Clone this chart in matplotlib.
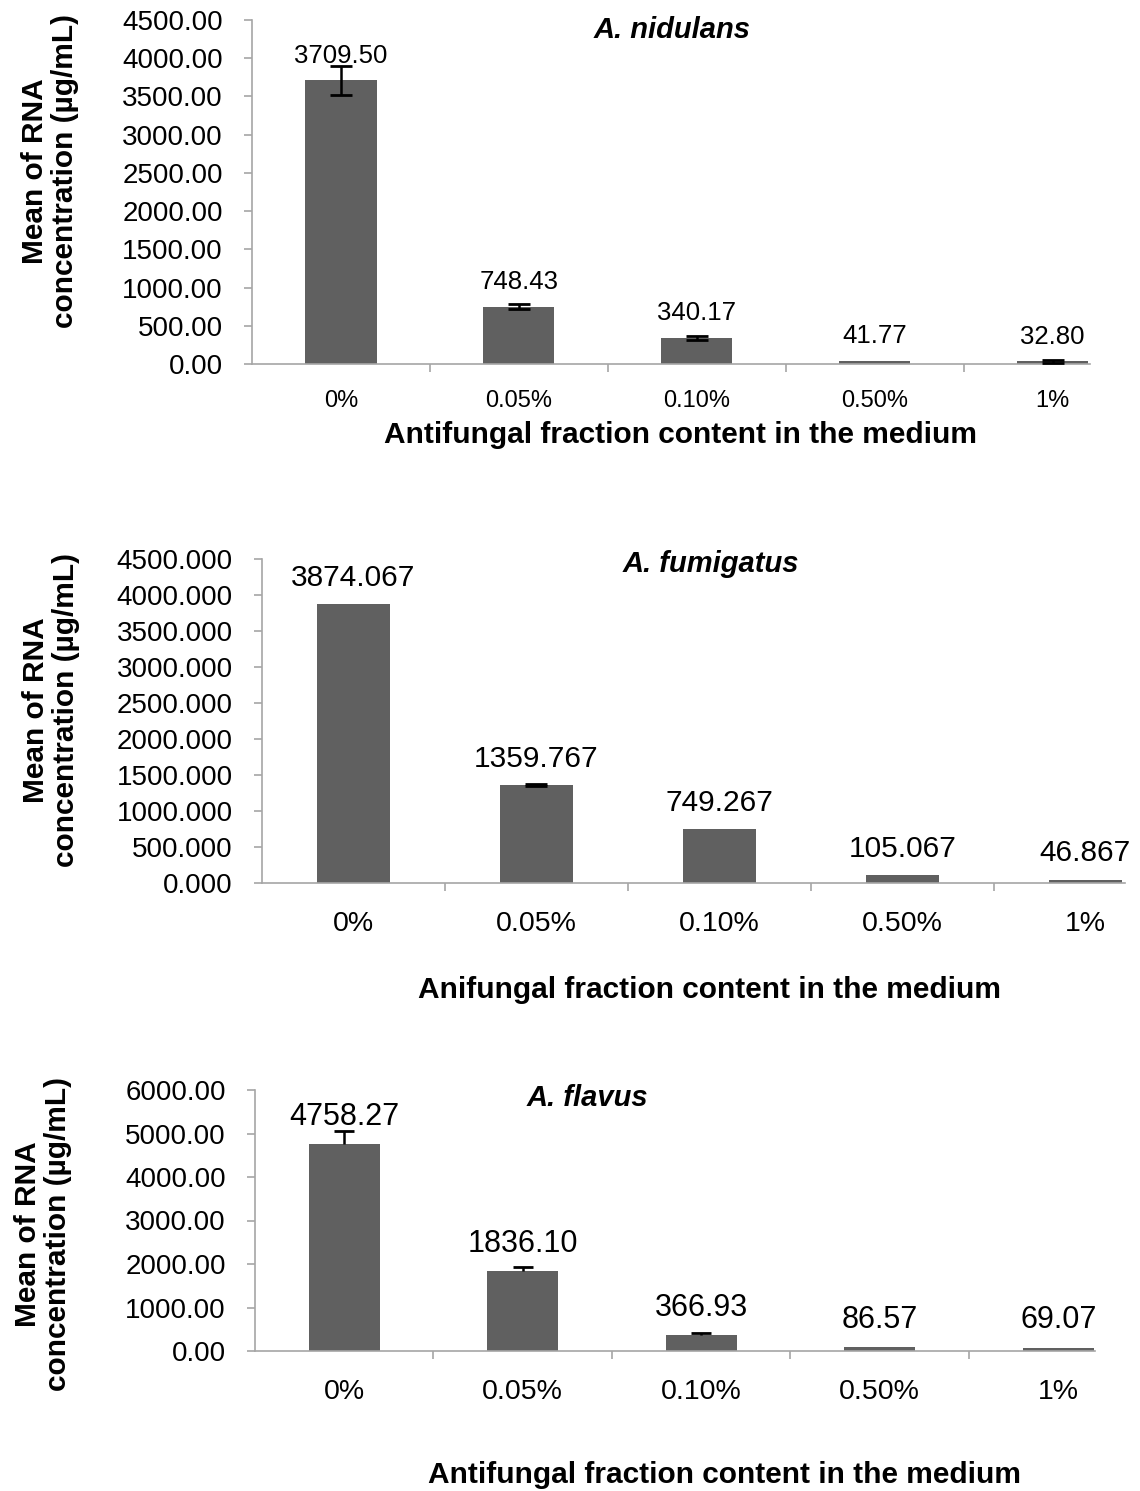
import matplotlib as mpl
mpl.use('Agg')
import matplotlib.pyplot as plt
import matplotlib.ticker as ticker
import numpy as np

plt.rcParams['font.family'] = ['Liberation Sans', 'DejaVu Sans']

categories = ['0%', '0.05%', '0.10%', '0.50%', '1%']

nidulans = [3709.50, 748.43, 340.17, 41.77, 32.80]
nidulans_err = [185, 35, 25, 0, 20]

fumigatus = [3874.067, 1359.767, 749.267, 105.067, 46.867]
fumigatus_err = [0, 18, 0, 0, 0]

flavus = [4758.27, 1836.10, 366.93, 86.57, 69.07]
flavus_err = [300, 100, 40, 0, 0]

W, H = 1140, 1491
BAR = '#606060'
AXC = '#a6a6a6'

fig = plt.figure(figsize=(W / 100, H / 100), dpi=100)


def px_axes(left, right, top, bottom):
    return fig.add_axes([left / W, 1 - bottom / H, (right - left) / W, (bottom - top) / H])


def panel(ax, vals, err, ymax, step, decimals, xright, tick_fs, xtick_fs, lab_fs,
          xpad, lower_err=True, capsize=8):
    x = np.arange(len(vals))
    ax.bar(x, vals, width=0.4, color=BAR, zorder=2)
    idx = [i for i, e in enumerate(err) if e > 0]
    if idx:
        e = np.array([err[i] for i in idx])
        yerr = [e if lower_err else np.zeros_like(e), e]
        _, caps, _ = ax.errorbar(x[idx], [vals[i] for i in idx], yerr=yerr, fmt='none',
                                 ecolor='black', elinewidth=1.8, capsize=capsize,
                                 capthick=2, zorder=3)
        if not lower_err:
            caps[0].set_visible(False)
    for xi, v in zip(x, vals):
        ax.annotate(f'{v:.{decimals}f}', (xi, v), xytext=(0, 9), textcoords='offset points',
                    ha='center', va='bottom', fontsize=lab_fs)
    ax.set_xlim(-0.5, xright)
    ax.set_ylim(0, ymax)
    ax.yaxis.set_major_locator(ticker.MultipleLocator(step))
    ax.yaxis.set_major_formatter(ticker.FormatStrFormatter(f'%.{decimals}f'))
    ax.set_xticks(x)
    ax.set_xticklabels(categories)
    ax.set_xticks([0.5, 1.5, 2.5, 3.5], minor=True)
    ax.tick_params(axis='x', which='major', length=0, pad=xpad, labelsize=xtick_fs)
    ax.tick_params(axis='x', which='minor', length=6, width=1.2, color=AXC)
    ax.tick_params(axis='y', length=6, width=1.2, color=AXC, pad=15, labelsize=tick_fs)
    for s in ['top', 'right']:
        ax.spines[s].set_visible(False)
    for s in ['left', 'bottom']:
        ax.spines[s].set_color(AXC)
        ax.spines[s].set_linewidth(1.2)


def label(x, y, s, **kw):
    fig.text(x / W, 1 - y / H, s, ha='center', va='center', **kw)


ylab = 'Mean of RNA\nconcentration (µg/mL)'

# A. nidulans
ax1 = px_axes(252, 1090, 20, 364)
panel(ax1, nidulans, nidulans_err, 4500, 500, 2, 4.21, 20, 17, 18.5, 19)
label(672, 30, 'A. nidulans', fontsize=21, fontweight='bold', style='italic')
label(50, 171, ylab, rotation=90, fontsize=21.5, fontweight='bold', linespacing=1.1)
label(681, 435, 'Antifungal fraction content in the medium', fontsize=21.5, fontweight='bold')

# A. fumigatus
ax2 = px_axes(262, 1125, 559, 883)
panel(ax2, fumigatus, fumigatus_err, 4500, 500, 3, 4.216, 20, 20.5, 21.5, 20, capsize=8)
label(711, 564, 'A. fumigatus', fontsize=21, fontweight='bold', style='italic')
label(51, 710, ylab, rotation=90, fontsize=21.5, fontweight='bold', linespacing=1.1)
label(710, 990, 'Anifungal fraction content in the medium', fontsize=21.5, fontweight='bold')

# A. flavus
ax3 = px_axes(255, 1095, 1090, 1351)
panel(ax3, flavus, flavus_err, 6000, 1000, 2, 4.206, 20, 20.5, 22, 20,
      lower_err=False, capsize=7)
label(587, 1098, 'A. flavus', fontsize=21, fontweight='bold', style='italic')
label(43, 1234, ylab, rotation=90, fontsize=21.5, fontweight='bold', linespacing=1.1)
label(724, 1475, 'Antifungal fraction content in the medium', fontsize=21.5, fontweight='bold')

fig.savefig('out.png', dpi=100)
